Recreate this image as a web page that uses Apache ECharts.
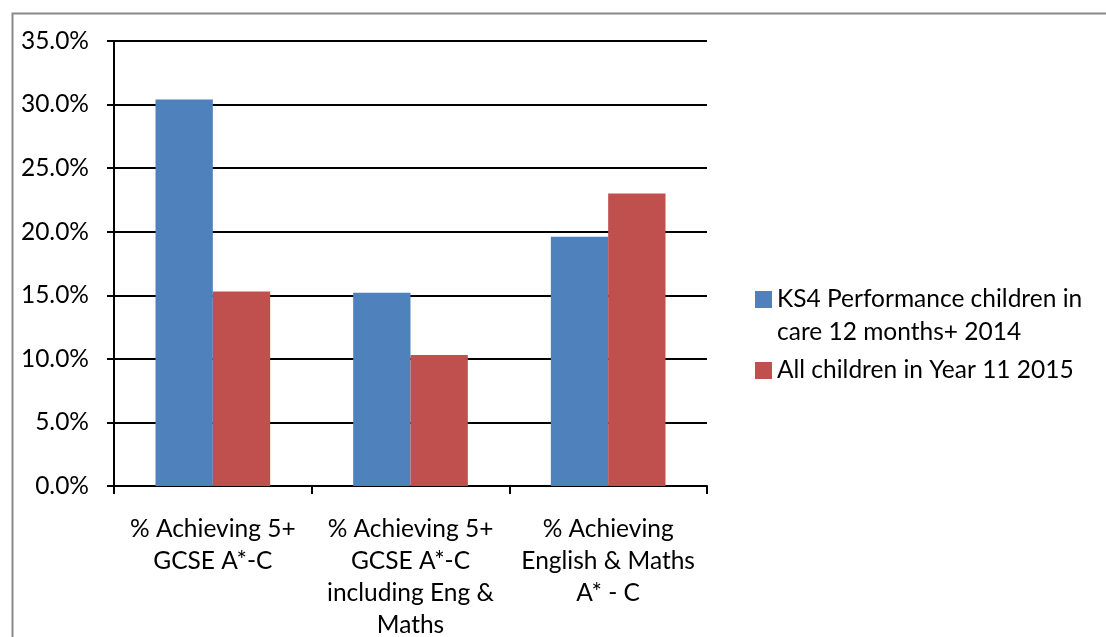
<!DOCTYPE html>
<html>
<head>
<meta charset="utf-8">
<script src="https://cdn.jsdelivr.net/npm/echarts@6/dist/echarts.min.js"></script>
<style>
  html, body { margin: 0; padding: 0; background: #ffffff; }
  #chart { width: 1106px; height: 637px; }
</style>
</head>
<body>
<div id="chart"></div>
<script>
// Outcome categories (x axis)
const categories = [
  '% Achieving 5+\nGCSE A*-C',
  '% Achieving 5+\nGCSE A*-C\nincluding Eng &\nMaths',
  '% Achieving\nEnglish & Maths\nA* - C'
];

// Series names
const seriesNames = [
  'KS4 Performance children in\ncare 12 months+ 2014',
  'All children in Year 11 2015'
];

// Percentages achieving each outcome
const inCareValues = [30.4, 15.2, 19.6];
const allChildrenValues = [15.3, 10.3, 23.0];

// Value axis ticks
const yTicks = [0, 5, 10, 15, 20, 25, 30, 35];

const FONT = 'Lato';
const FS = 24.5;
const chart = echarts.init(document.getElementById('chart'), null, { renderer: 'canvas' });

chart.setOption({
  backgroundColor: '#ffffff',
  animation: false,
  graphic: [{
    type: 'rect',
    left: 10, top: 11,
    shape: { width: 1200, height: 700 },
    style: { fill: 'none', stroke: '#8a8a8a', lineWidth: 2 },
    silent: true, z: -1
  }],
  grid: {
    left: 114, right: 399, top: 41, bottom: 151,
    containLabel: false,
    outerBoundsMode: 'none'
  },
  legend: {
    orient: 'vertical',
    left: 755,
    top: 250,
    padding: 0,
    itemWidth: 17,
    itemHeight: 17,
    itemGap: 5,
    icon: 'rect',
    // the two-line entry gets a leading blank line so its first line sits beside the swatch
    formatter: name => (name.indexOf('\n') >= 0 ? '\n' + name : name),
    textStyle: { fontFamily: FONT, fontSize: FS, color: '#000', lineHeight: 33 },
    data: seriesNames
  },
  xAxis: {
    type: 'category',
    data: categories,
    axisLine: { show: true, lineStyle: { color: '#000', width: 2 } },
    axisTick: { show: true, length: 8, lineStyle: { color: '#000', width: 2 } },
    axisLabel: {
      fontFamily: FONT, fontSize: FS, color: '#000',
      lineHeight: 32, margin: 27, interval: 0, align: 'center'
    },
    splitLine: { show: false }
  },
  yAxis: {
    type: 'value',
    min: yTicks[0],
    max: yTicks[yTicks.length - 1],
    interval: 5,
    axisLine: { show: true, lineStyle: { color: '#000', width: 2 } },
    axisTick: { show: true, length: 7, lineStyle: { color: '#000', width: 2 } },
    axisLabel: {
      fontFamily: FONT, fontSize: FS, color: '#000', margin: 25,
      formatter: v => v.toFixed(1) + '%'
    },
    splitLine: { show: true, lineStyle: { color: '#000', width: 2 } }
  },
  series: [
    {
      name: seriesNames[0],
      type: 'bar',
      data: inCareValues,
      itemStyle: { color: '#4F81BD' },
      barGap: '0%',
      barCategoryGap: '42%'
    },
    {
      name: seriesNames[1],
      type: 'bar',
      data: allChildrenValues,
      itemStyle: { color: '#C0504D' },
      barGap: '0%',
      barCategoryGap: '42%'
    }
  ]
});
</script>
</body>
</html>
